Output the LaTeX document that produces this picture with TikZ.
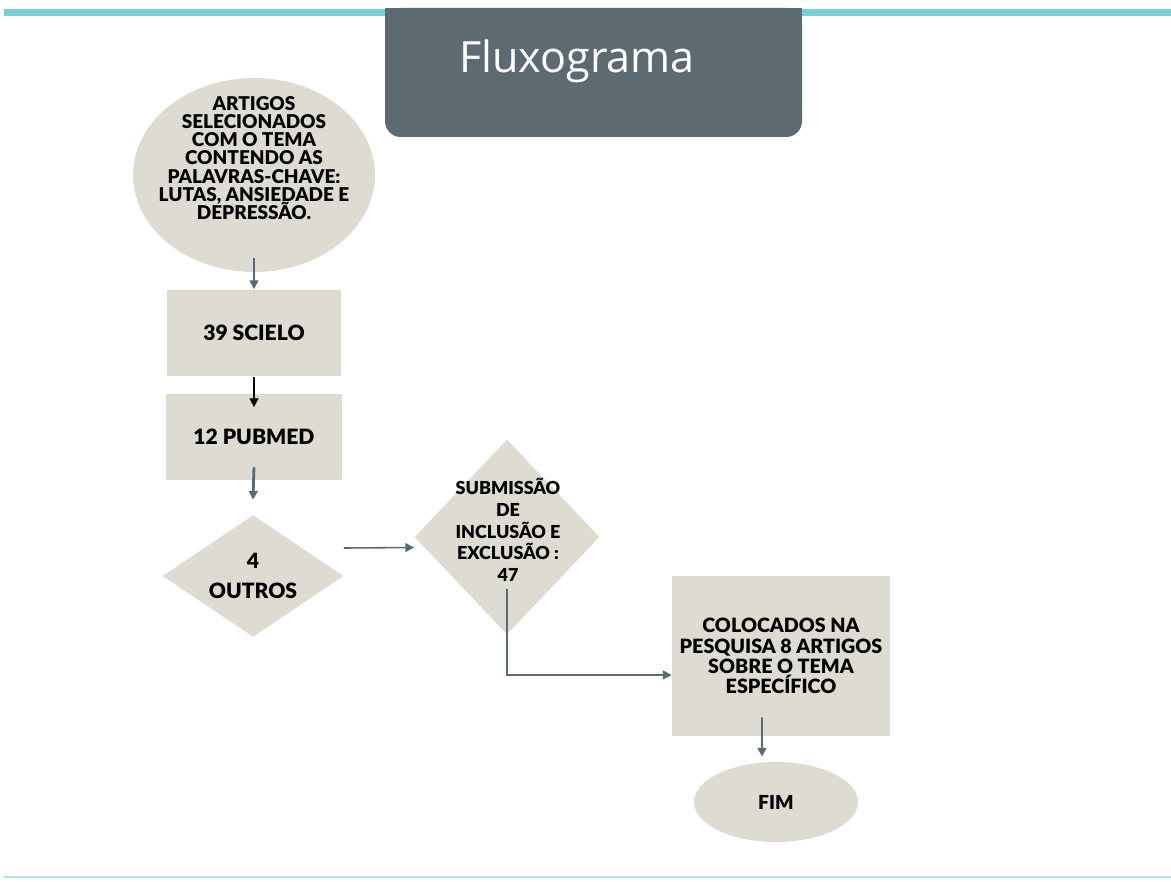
\documentclass[tikz,border=0pt]{standalone}
\usepackage{fontspec}
\setmainfont{Lato}[BoldFont={Lato Black}]
\newfontfamily\titlefont{Open Sans}
\usetikzlibrary{shapes.geometric,arrows.meta}
\setlength{\lineskiplimit}{-10pt}
\definecolor{bege}{HTML}{DEDCD2}
\definecolor{ardosia}{HTML}{5C6A71}
\definecolor{turquesa}{HTML}{7ACFD6}
\definecolor{turquesaclara}{HTML}{AEE5E8}
\begin{document}
\begin{tikzpicture}[x=0.02cm,y=-0.02cm,
  forma/.style={fill=bege,draw=none,inner sep=0pt,align=center},
  seta/.style={draw=ardosia,line width=1.1pt,-{Triangle[length=5pt,width=5pt]}}]
\useasboundingbox (0,0) rectangle (1171,882);
\fill[turquesa] (4,9) rectangle (1171,16);
\fill[turquesaclara] (4,876) rectangle (1171,878);
\fill[ardosia] (385,8) rectangle (802,60);
\fill[ardosia,rounded corners=9pt] (385,8) rectangle (802,137);
\node(titulo) at (577,61) [text=white,font=\titlefont\fontsize{24.5}{24}\selectfont] {Fluxograma};

\node(artigos) at (254,175) [forma,ellipse,minimum width=4.84cm,minimum height=3.88cm] {};
\node(artigostexto) at (254,158) [align=center,font=\bfseries\fontsize{10.8}{10.4}\selectfont] {ARTIGOS\\SELECIONADOS\\COM O TEMA\\CONTENDO AS\\PALAVRAS-CHAVE:\\LUTAS, ANSIEDADE E\\DEPRESSÃO.};
\node(scielo) at (254,333) [forma,minimum width=3.5cm,minimum height=1.74cm,font=\bfseries\fontsize{12}{14}\selectfont] {39 SCIELO};
\node(pubmed) at (254,437) [forma,minimum width=3.52cm,minimum height=1.74cm,font=\bfseries\fontsize{12}{14}\selectfont] {12 PUBMED};
\node(outros) at (253,576) [forma,diamond,aspect=1.5,minimum width=3.62cm,minimum height=2.44cm,font=\bfseries\fontsize{12}{17}\selectfont] {4\\OUTROS};
\node(submissao) at (507,537) [forma,diamond,minimum width=3.7cm,minimum height=3.9cm] {};
\node(submissaotexto) at (508,530) [align=center,font=\bfseries\fontsize{10.2}{12.3}\selectfont] {SUBMISSÃO\\DE\\INCLUSÃO E\\EXCLUSÃO :\\47};
\node(colocados) at (781,656) [forma,minimum width=4.36cm,minimum height=3.2cm,font=\bfseries\fontsize{11.2}{11.5}\selectfont] {COLOCADOS NA\\PESQUISA 8 ARTIGOS\\SOBRE O TEMA\\ESPECÍFICO};
\node(fim) at (776,802) [forma,ellipse,minimum width=3.28cm,minimum height=1.6cm,font=\bfseries\fontsize{11}{12}\selectfont] {FIM};

\draw[seta] ([yshift=0.28cm]artigos.south) -- (scielo.north);
\draw[seta,draw=black,line width=0.9pt] (scielo.south) -- ([yshift=-0.28cm]pubmed.north);
\draw[seta,line width=1.6pt] ([yshift=0.27cm]pubmed.south) -- ([yshift=0.3cm]outros.north);
\draw[seta,line width=0.9pt] ([yshift=0.56cm]outros.east) -- ([yshift=-0.21cm]submissao.west);
\draw[seta] ([yshift=-1.05cm]submissao.center) |- ([yshift=-0.38cm]colocados.west);
\draw[seta] ([xshift=-0.38cm,yshift=0.38cm]colocados.south) -- ([xshift=-0.28cm,yshift=0.1cm]fim.north);
\end{tikzpicture}
\end{document}
